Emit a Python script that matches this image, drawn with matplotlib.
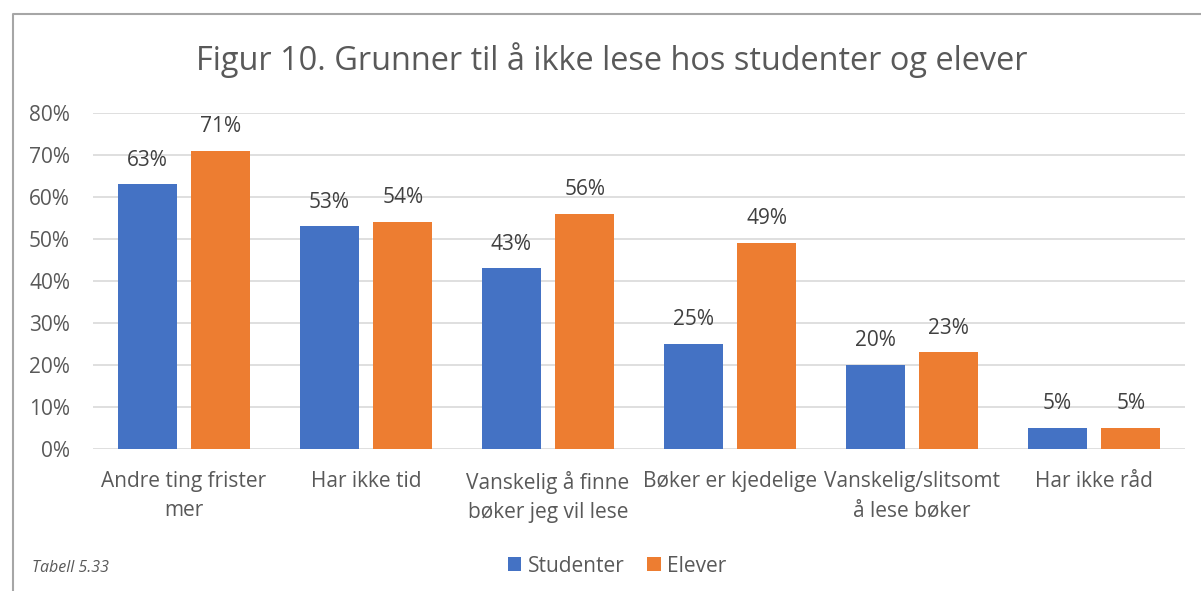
import matplotlib
matplotlib.use("Agg")
import matplotlib.pyplot as plt
import numpy as np
from matplotlib.lines import Line2D

categories = ["Andre ting frister\nmer", "Har ikke tid", "Vanskelig å finne\nbøker jeg vil lese",
              "Bøker er kjedelige", "Vanskelig/slitsomt\nå lese bøker", "Har ikke råd"]
studenter = [63, 53, 43, 25, 20, 5]
elever = [71, 54, 56, 49, 23, 5]
series_names = ["Studenter", "Elever"]
yticks = [0, 10, 20, 30, 40, 50, 60, 70, 80]

plt.rcParams['font.family'] = ['Open Sans', 'DejaVu Sans']
txt = '#595959'
W, H = 1201, 591
fig = plt.figure(figsize=(W/100, H/100), dpi=100)
ax = fig.add_axes([93/W, 1-449/H, (1185-93)/W, (449-113)/H])

x = np.arange(len(categories))
bw = 0.325
off = (bw + 0.08) / 2
b1 = ax.bar(x - off, studenter, bw, color='#4472C4', label=series_names[0], zorder=3)
b2 = ax.bar(x + off, elever, bw, color='#ED7D31', label=series_names[1], zorder=3)
for bars in (b1, b2):
    for r in bars:
        ax.text(r.get_x() + r.get_width()/2, r.get_height() + 3.3, f"{r.get_height():.0f}%",
                ha='center', va='bottom', fontsize=15, color='#404040')

ax.set_xlim(-0.5, len(categories) - 0.5)
ax.set_ylim(0, 80)
ax.set_yticks(yticks)
ax.set_yticklabels([f"{t}%" for t in yticks])
ax.set_xticks(x)
ax.set_xticklabels(categories, linespacing=1.55)
ax.tick_params(axis='both', length=0, labelsize=15, colors=txt)
ax.tick_params(axis='y', pad=16.5)
ax.tick_params(axis='x', pad=15.5)
ax.yaxis.grid(True, color='#D9D9D9', linewidth=1.2, zorder=0)
for s in ax.spines.values():
    s.set_visible(False)

fig.text(612/W, 1-60/H, "Figur 10. Grunner til å ikke lese hos studenter og elever",
         ha='center', va='center', fontsize=23.4, color=txt)
fig.text(32/W, 1-568/H, "Tabell 5.33", ha='left', va='center', fontsize=11.5,
         color=txt, style='italic')
leg = fig.legend(handles=[b1, b2], loc='center', bbox_to_anchor=(617/W, 1-566/H), ncol=2,
                 frameon=False, fontsize=15, handlelength=0.65, handleheight=0.65,
                 handletextpad=0.3, columnspacing=1.1)
for t in leg.get_texts():
    t.set_color(txt)

fig.add_artist(Line2D([12.5/W, 12.5/W, 1.0], [0.0, 1-13.5/H, 1-13.5/H],
                      transform=fig.transFigure, color='#A6A6A6', linewidth=1.5))

fig.savefig("out.png", dpi=100)
